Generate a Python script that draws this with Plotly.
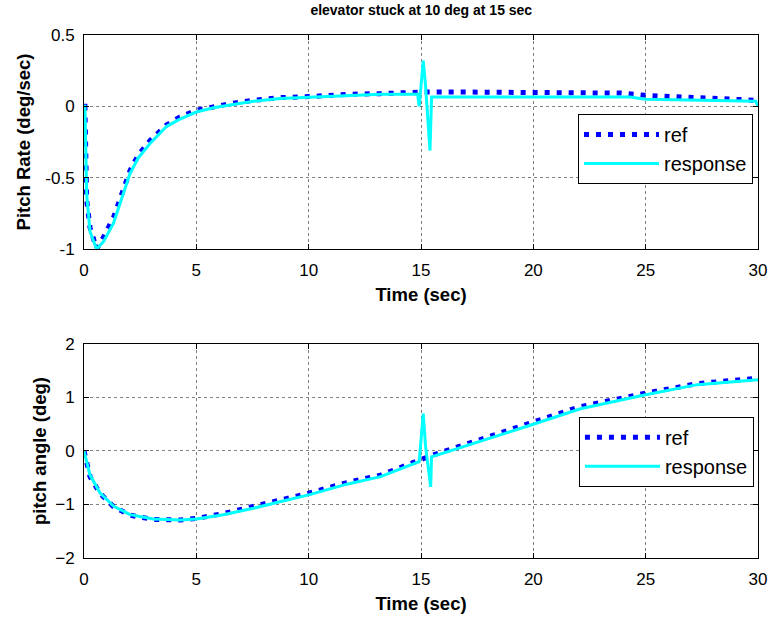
import plotly.graph_objects as go
from plotly.subplots import make_subplots

# ---- Pitch rate (top) ----
t_rate_ref = [0, 0.04, 0.12, 0.27, 0.56, 0.86, 1.31, 1.75, 2.05, 2.42, 2.94, 3.68, 4.27, 5.0, 5.76,
              6.5, 7.54, 8.72, 10.2, 11.7, 13.2, 15.0, 17.0, 21.6, 23.9, 25.0, 27.3, 29.9, 30.0]
rate_ref = [0, 0, -0.66, -0.85, -1.0, -0.92, -0.78, -0.59, -0.45, -0.34, -0.24, -0.13, -0.075, -0.028, 0.0,
            0.019, 0.042, 0.061, 0.07, 0.084, 0.089, 0.10, 0.10, 0.10, 0.093, 0.077, 0.061, 0.045, 0.042]

t_rate_resp = [0, 0.04, 0.12, 0.27, 0.56, 0.86, 1.31, 1.75, 2.05, 2.42, 2.94, 3.68, 4.27, 5.0, 5.76,
               6.5, 7.54, 8.72, 10.2, 11.7, 13.2, 14.85, 14.92, 15.1, 15.2, 15.4, 15.47, 17.0, 24.3,
               25.0, 27.3, 29.9, 30.0]
rate_resp = [0, 0, -0.62, -0.88, -1.0, -0.95, -0.82, -0.62, -0.47, -0.36, -0.26, -0.14, -0.09, -0.04, -0.01,
             0.01, 0.035, 0.055, 0.066, 0.078, 0.085, 0.087, 0.0, 0.32, 0.15, -0.31, 0.065, 0.065, 0.065,
             0.05, 0.045, 0.035, 0.0]

# ---- Pitch angle (bottom) ----
t_ang_ref = [0, 0.27, 0.71, 1.31, 2.05, 3.08, 4.27, 5.0, 6.2, 7.54, 8.72, 10.0, 11.7, 13.2, 15.0,
             15.5, 17.6, 20.0, 22.1, 25.0, 27.3, 30.0]
ang_ref = [0, -0.48, -0.79, -1.04, -1.20, -1.28, -1.29, -1.26, -1.17, -1.04, -0.92, -0.79, -0.59, -0.45, -0.16,
           -0.08, 0.21, 0.55, 0.83, 1.08, 1.26, 1.36]

t_ang_resp = [0, 0.27, 0.71, 1.31, 2.05, 3.08, 4.27, 5.0, 6.2, 7.54, 8.72, 10.0, 11.7, 13.2, 14.92,
              15.1, 15.2, 15.43, 15.47, 17.6, 20.0, 22.1, 25.0, 27.3, 30.0]
ang_resp = [0, -0.45, -0.78, -1.03, -1.19, -1.27, -1.29, -1.27, -1.19, -1.07, -0.95, -0.82, -0.62, -0.48, -0.2,
            0.70, 0.1, -0.67, -0.11, 0.17, 0.50, 0.79, 1.05, 1.24, 1.33]

x_ticks = [0, 5, 10, 15, 20, 25, 30]
rate_ticks = [-1, -0.5, 0, 0.5]
rate_tick_text = ["-1", "-0.5", "0", "0.5"]
ang_ticks = [-2, -1, 0, 1, 2]

FONT = "Liberation Sans, Arial, sans-serif"
REF_COLOR = "#0000FF"
RESP_COLOR = "#00FFFF"

fig = make_subplots(rows=2, cols=1, vertical_spacing=0.1816)

fig.add_trace(go.Scatter(x=t_rate_ref, y=rate_ref, mode="lines", name="ref",
                         line=dict(color=REF_COLOR, width=5, dash="5px,7px"),
                         legend="legend"), row=1, col=1)
fig.add_trace(go.Scatter(x=t_rate_resp, y=rate_resp, mode="lines", name="response",
                         line=dict(color=RESP_COLOR, width=3),
                         legend="legend"), row=1, col=1)
fig.add_trace(go.Scatter(x=t_ang_ref, y=ang_ref, mode="lines", name="ref",
                         line=dict(color=REF_COLOR, width=5, dash="5px,7px"),
                         legend="legend2"), row=2, col=1)
fig.add_trace(go.Scatter(x=t_ang_resp, y=ang_resp, mode="lines", name="response",
                         line=dict(color=RESP_COLOR, width=3),
                         legend="legend2"), row=2, col=1)

axis_common = dict(showline=True, linecolor="black", linewidth=1, mirror="ticks",
                   ticks="inside", ticklen=5, tickcolor="black", automargin=False,
                   showgrid=True, gridcolor="#7f7f7f", griddash="dot", gridwidth=1,
                   zeroline=False, tickfont=dict(family=FONT, size=17, color="black"))

TITLE_FONT = dict(family=FONT, size=18.5, color="black")

for r in (1, 2):
    fig.update_xaxes(range=[0, 30], tickvals=x_ticks, row=r, col=1, ticklabelstandoff=6,
                     title=dict(text="<b>Time (sec)</b>", standoff=8, font=TITLE_FONT),
                     **axis_common)

fig.update_yaxes(range=[-1, 0.5], tickvals=rate_ticks, ticktext=rate_tick_text, row=1, col=1,
                 ticklabelstandoff=5,
                 title=dict(text="<b>Pitch Rate (deg/sec)</b>", standoff=9, font=TITLE_FONT),
                 **axis_common)
fig.update_yaxes(range=[-2, 2], tickvals=ang_ticks, row=2, col=1, ticklabelstandoff=5,
                 title=dict(text="<b>pitch angle (deg)</b>", standoff=3, font=TITLE_FONT),
                 **axis_common)

legend_common = dict(bgcolor="white", bordercolor="black", borderwidth=1,
                     font=dict(family=FONT, size=20, color="black"),
                     xanchor="right", yanchor="top", itemwidth=75, tracegroupgap=0)

fig.update_layout(
    width=773, height=617,
    margin=dict(l=84, r=15, t=35, b=59),
    paper_bgcolor="white", plot_bgcolor="white",
    title=dict(text="<b>elevator stuck at 10 deg at 15 sec</b>", x=0.545, xanchor="center",
               y=0.984, yanchor="middle",
               font=dict(family=FONT, size=14, color="black")),
    legend=dict(x=0.9926, y=0.849, **legend_common),
    legend2=dict(x=0.994, y=0.270, **legend_common),
    font=dict(family=FONT, color="black"),
)

# remove the browser's default 8px body margin so the figure fills the window exactly
fig.write_html("out.html", config={"displayModeBar": False},
               post_script="document.body.style.margin='0';document.body.style.overflow='hidden';")
